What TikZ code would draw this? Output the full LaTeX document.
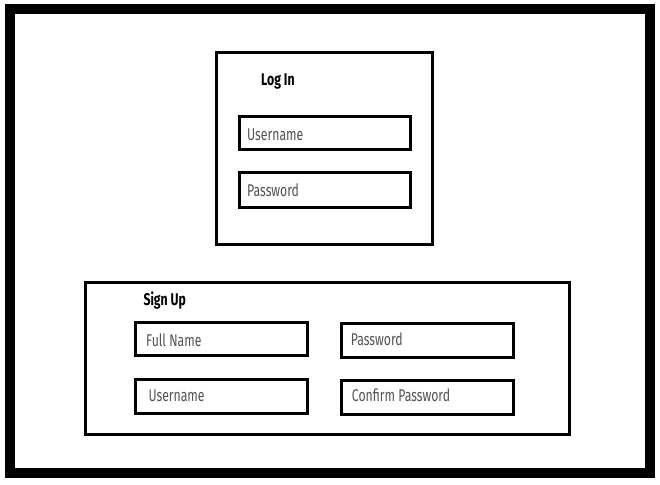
\documentclass[tikz,border=0pt]{standalone}
\usepackage{fontspec}
\setmainfont{Fira Sans}[FakeStretch=0.72]
\begin{document}
\begin{tikzpicture}[x=1pt,y=-1pt,
  frame/.style={draw=black,line width=10pt},
  panel/.style={draw=black,line width=3pt},
  field/.style={draw=black,line width=3pt},
  title/.style={anchor=base west,inner sep=0,font=\fontsize{17}{17}\selectfont\bfseries,text=black},
  hint/.style={anchor=base west,inner sep=0,font=\fontsize{17}{17}\selectfont,text=black!68}]
\useasboundingbox (0,0) rectangle (660,484);
\fill[white] (0,0) rectangle (660,484);
\draw[frame] (10,9) rectangle (650,473);
% Log in panel
\draw[panel] (216.5,52.5) rectangle (432.5,244);
\node[title] (login) at (261,85) {Log In};
\draw[field] (239,116) rectangle (410.3,149.7);
\node[hint] (lu) at (247,140) {Username};
\draw[field] (239,172.7) rectangle (410.3,207);
\node[hint] (lp) at (247,196) {Password};
% Sign up panel
\draw[panel] (85.5,282.7) rectangle (569,434.3);
\node[title] (signup) at (143.3,305) {Sign Up};
\draw[field] (135.7,322.7) rectangle (307.3,355.3);
\node[hint] (sf) at (146,346.7) {Full Name};
\draw[field] (135.7,379) rectangle (307.3,413);
\node[hint] (su) at (148.3,401) {Username};
\draw[field] (341.7,323.3) rectangle (513.7,357);
\node[hint] (sp) at (350.7,345) {Password};
\draw[field] (341.7,380) rectangle (513.7,414);
\node[hint] (sc) at (351.7,401.7) {Confirm Password};
\end{tikzpicture}
\end{document}
